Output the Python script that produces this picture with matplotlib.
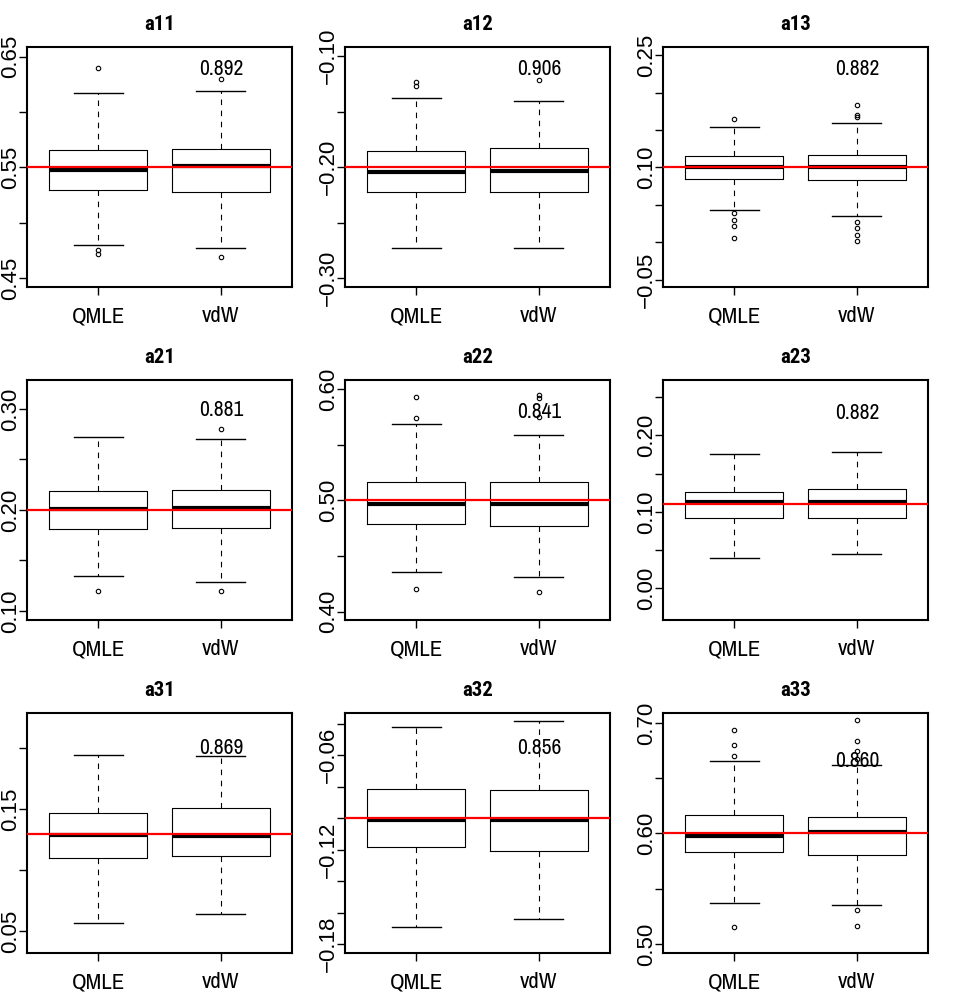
import matplotlib
matplotlib.use("Agg")
import matplotlib.pyplot as plt
import numpy as np

# panel names, true parameter values and coverage labels
titles = ["a11", "a12", "a13", "a21", "a22", "a23", "a31", "a32", "a33"]
true_vals = [0.55, -0.20, 0.10, 0.20, 0.50, 0.11, 0.13, -0.10, 0.60]
cover_txt = ["0.892", "0.906", "0.882", "0.881", "0.841", "0.882", "0.869", "0.856", "0.860"]
cover_y = [0.639, -0.112, 0.232, 0.299, 0.579, 0.229, 0.1996, -0.0558, 0.6655]
methods = ["QMLE", "vdW"]

# box stats per panel: [lower whisker, q1, median, q3, upper whisker]
qmle_box = [
    [0.480, 0.530, 0.548, 0.566, 0.617],
    [-0.2725, -0.222, -0.204, -0.1855, -0.1375],
    [0.043, 0.084, 0.100, 0.115, 0.154],
    [0.1345, 0.181, 0.2013, 0.219, 0.272],
    [0.4353, 0.479, 0.4967, 0.516, 0.5686],
    [0.0399, 0.0916, 0.1129, 0.1259, 0.1758],
    [0.0568, 0.1102, 0.1291, 0.1465, 0.1939],
    [-0.169, -0.1181, -0.1011, -0.0815, -0.0425],
    [0.5367, 0.583, 0.598, 0.6164, 0.6657],
]
vdw_box = [
    [0.477, 0.528, 0.551, 0.567, 0.619],
    [-0.2725, -0.222, -0.2035, -0.183, -0.1405],
    [0.035, 0.083, 0.101, 0.117, 0.160],
    [0.129, 0.1826, 0.2016, 0.2197, 0.270],
    [0.431, 0.477, 0.497, 0.5165, 0.559],
    [0.0443, 0.0916, 0.1124, 0.1294, 0.1776],
    [0.0646, 0.1115, 0.1283, 0.1505, 0.1934],
    [-0.1638, -0.1211, -0.1011, -0.0825, -0.0383],
    [0.5352, 0.581, 0.6012, 0.6145, 0.6624],
]
qmle_out = [
    [0.640, 0.475, 0.472],
    [-0.123, -0.127],
    [0.165, 0.039, 0.029, 0.022, 0.006],
    [0.120],
    [0.593, 0.5737, 0.4204],
    [], [], [],
    [0.6934, 0.680, 0.670, 0.5153],
]
vdw_out = [
    [0.630, 0.469],
    [-0.122],
    [0.184, 0.170, 0.168, 0.027, 0.019, 0.010, 0.001],
    [0.2803, 0.120],
    [0.5946, 0.5916, 0.575, 0.4174],
    [], [], [],
    [0.7024, 0.684, 0.675, 0.667, 0.5304, 0.5159],
]

# y axis ranges, tick grids and which ticks get a label
ylims = [(0.442, 0.6587), (-0.3078, -0.0919), (-0.060, 0.261),
         (0.0911, 0.3286), (0.3925, 0.608), (-0.0414, 0.2723),
         (0.0324, 0.2285), (-0.1857, -0.0333), (0.4919, 0.709)]
tick_lo = [0.45, -0.30, -0.05, 0.10, 0.40, 0.00, 0.05, -0.18, 0.50]
tick_hi = [0.65, -0.10, 0.25, 0.30, 0.60, 0.25, 0.20, -0.04, 0.70]
tick_step = [0.05, 0.05, 0.05, 0.05, 0.05, 0.05, 0.05, 0.02, 0.05]
tick_lab = [[0.45, 0.55, 0.65], [-0.30, -0.20, -0.10], [-0.05, 0.10, 0.25],
            [0.10, 0.20, 0.30], [0.40, 0.50, 0.60], [0.00, 0.10, 0.20],
            [0.05, 0.15], [-0.18, -0.12, -0.06], [0.50, 0.60, 0.70]]

# condensed faces for titles / labels, plain sans for the rotated y labels
narrow = ["Archivo Narrow", "Roboto Condensed", "Liberation Sans", "DejaVu Sans"]
narrow_bold = ["Roboto Condensed", "Liberation Sans", "DejaVu Sans"]
wide = ["Liberation Sans", "DejaVu Sans"]

fig = plt.figure(figsize=(9.55, 10.01), dpi=100)
W, H = 955.0, 1001.0
col_left = [27, 345, 663]
row_top = [47, 380, 713]
ax_w, ax_h = 265, 240

for i in range(9):
    r, c = divmod(i, 3)
    ax = fig.add_axes([col_left[c] / W, 1 - (row_top[r] + ax_h) / H, ax_w / W, ax_h / H])

    stats = []
    for box, out, lab in [(qmle_box[i], qmle_out[i], methods[0]), (vdw_box[i], vdw_out[i], methods[1])]:
        stats.append(dict(whislo=box[0], q1=box[1], med=box[2], q3=box[3], whishi=box[4],
                          fliers=out, label=lab))
    ax.bxp(stats, positions=[1, 2], widths=0.8, showfliers=True,
           boxprops=dict(color="black", linewidth=0.8),
           medianprops=dict(color="black", linewidth=3.0, solid_capstyle="butt"),
           whiskerprops=dict(color="black", linewidth=0.8, linestyle=(0, (5, 5))),
           capprops=dict(color="black", linewidth=1.0),
           capwidths=0.4,
           flierprops=dict(marker="o", markersize=3.2, markerfacecolor="none",
                           markeredgecolor="black", markeredgewidth=0.8))
    ax.axhline(true_vals[i], color="red", linewidth=1.6, zorder=5)
    ax.text(2, cover_y[i], cover_txt[i], ha="center", va="center",
            fontsize=15.5, family=narrow)

    ax.set_xlim(0.42, 2.58)
    ax.set_ylim(*ylims[i])
    ticks = np.round(np.arange(tick_lo[i], tick_hi[i] + 1e-9, tick_step[i]), 3)
    labels = []
    for t in ticks:
        if any(abs(t - v) < 1e-9 for v in tick_lab[i]):
            labels.append(f"{t:.2f}".replace("-", "\u2212"))
        else:
            labels.append("")
    ax.set_yticks(ticks, labels)
    ax.set_xticks([1, 2], methods)
    for lbl in ax.get_yticklabels():
        lbl.set_rotation(90)
        lbl.set_va("center")
        lbl.set_family(wide)
        lbl.set_fontsize(16)
    for lbl in ax.get_xticklabels():
        lbl.set_family(narrow)
        lbl.set_fontsize(16.5)
    ax.tick_params(axis="y", length=6, width=1.0, pad=-1.5)
    ax.tick_params(axis="x", length=6, width=1.0, pad=8)
    for s in ax.spines.values():
        s.set_linewidth(1.5)
    ax.set_title(titles[i], fontsize=15, fontweight="bold", family=narrow_bold, pad=12)

fig.savefig("out.png", dpi=100)
